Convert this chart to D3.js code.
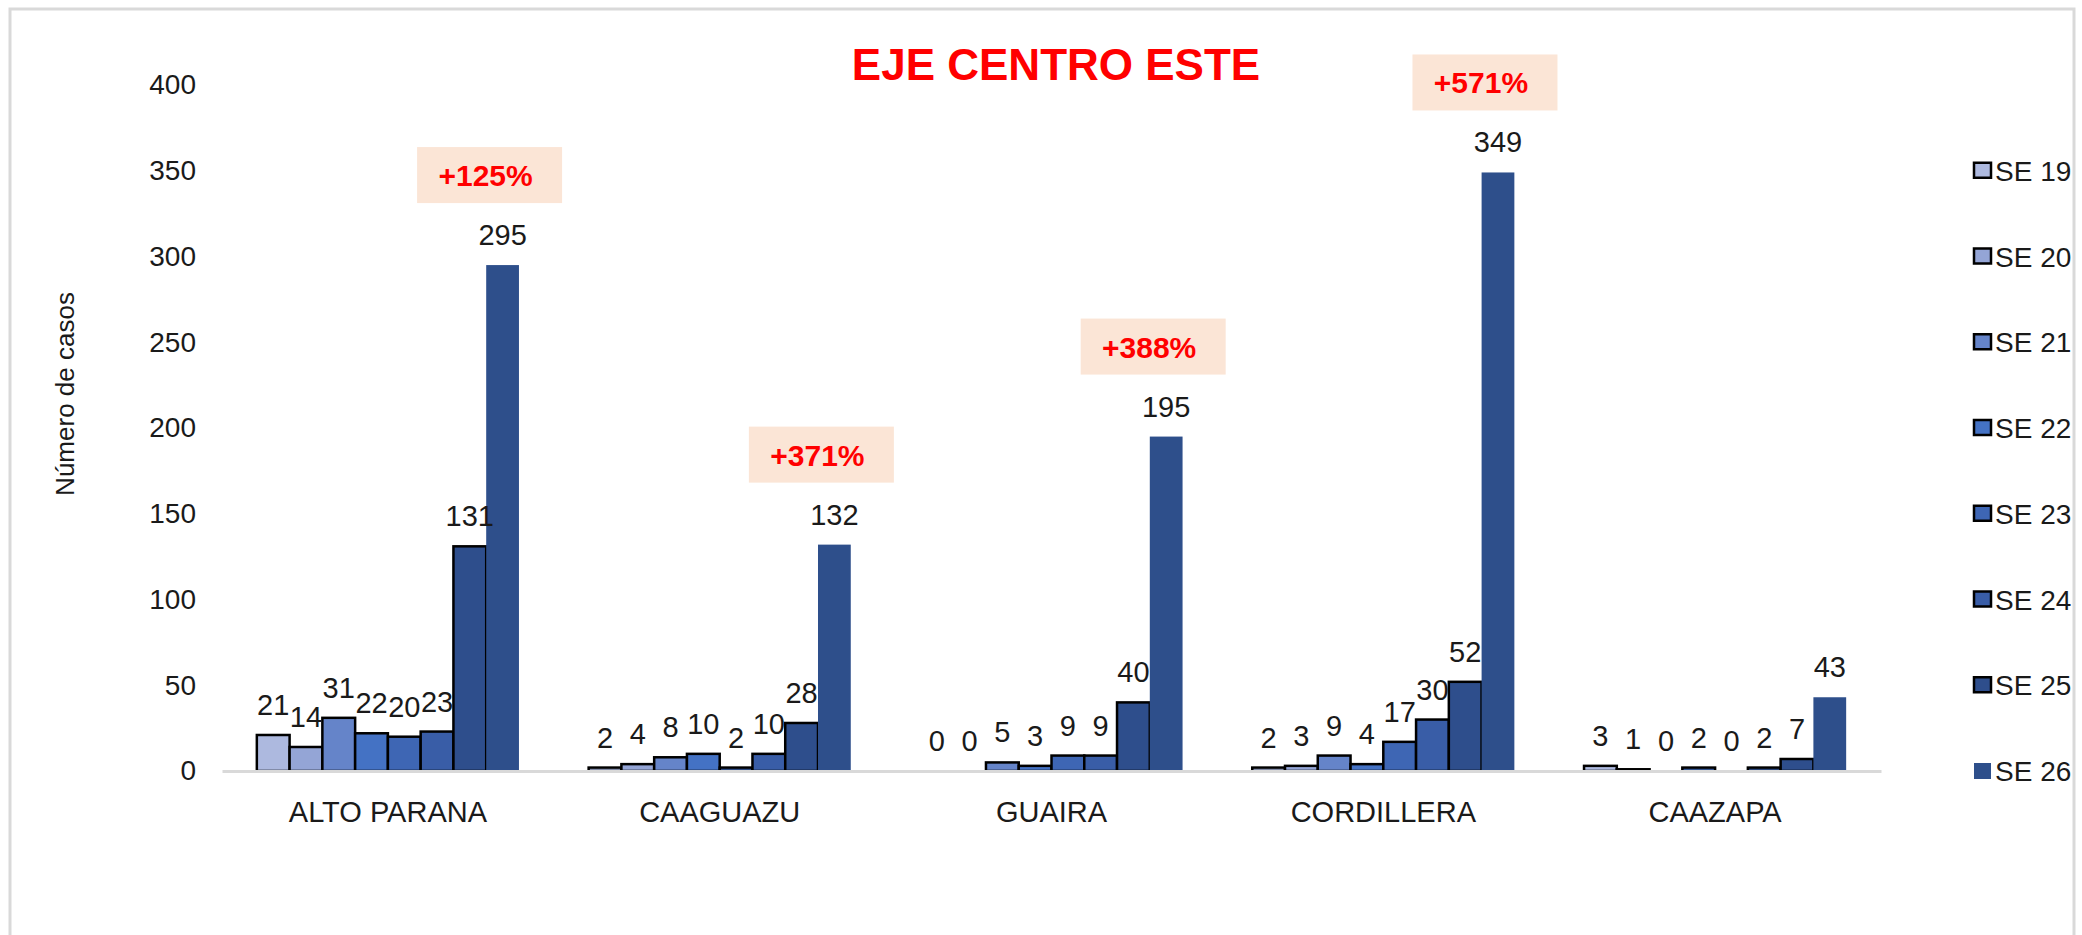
<!DOCTYPE html>
<html>
<head>
<meta charset="utf-8">
<script src="https://cdn.jsdelivr.net/npm/d3@7"></script>
<style>
  html, body { margin: 0; padding: 0; background: #fff; }
  svg { display: block; font-family: "Liberation Sans", Arial, sans-serif; }
</style>
</head>
<body>
<svg id="chart" width="2082" height="935"></svg>
<script>
// ---- data ----
const categories = ["ALTO PARANA", "CAAGUAZU", "GUAIRA", "CORDILLERA", "CAAZAPA"];
const seriesNames = ["SE 19", "SE 20", "SE 21", "SE 22", "SE 23", "SE 24", "SE 25", "SE 26"];
const se19 = [21, 2, 0, 2, 3];
const se20 = [14, 4, 0, 3, 1];
const se21 = [31, 8, 5, 9, 0];
const se22 = [22, 10, 3, 4, 2];
const se23 = [20, 2, 9, 17, 0];
const se24 = [23, 10, 9, 30, 2];
const se25 = [131, 28, 40, 52, 7];
const se26 = [295, 132, 195, 349, 43];
const yTicks = [0, 50, 100, 150, 200, 250, 300, 350, 400];
const changeCategories = ["ALTO PARANA", "CAAGUAZU", "GUAIRA", "CORDILLERA"];
const changeLabels = ["+125%", "+371%", "+388%", "+571%"];
const title = "EJE CENTRO ESTE";
const yTitle = "Número de casos";

const seriesValues = [se19, se20, se21, se22, se23, se24, se25, se26];
const colors = ["#adb9df", "#94a5d6", "#6584c9", "#4472c4", "#3e66b4", "#395da7", "#2e4e8c", "#2e4f8b"];

const svg = d3.select("#chart");

// frame
svg.append("rect").attr("x", 10).attr("y", 9).attr("width", 2064).attr("height", 960)
  .attr("fill", "none").attr("stroke", "#d9d9d9").attr("stroke-width", 3);

const plotLeft = 222, plotRight = 1881, plotTop = 85, plotBottom = 771;

const x = d3.scaleBand().domain(categories).range([plotLeft, plotRight]).paddingInner(0.21).paddingOuter(0.105);
const xs = d3.scaleBand().domain(seriesNames).range([0, x.bandwidth()]).padding(0);
const y = d3.scaleLinear().domain([0, 400]).range([plotBottom, plotTop]);

// title
svg.append("text").attr("x", 1056).attr("y", 80).attr("text-anchor", "middle")
  .attr("fill", "#ff0000").attr("font-weight", "bold").attr("font-size", 44).text(title);

// y axis (no line, labels only)
const yAxis = d3.axisLeft(y).tickValues(yTicks).tickSize(0).tickPadding(0);
const gy = svg.append("g").attr("transform", `translate(196,0)`).call(yAxis);
gy.select(".domain").remove();
gy.selectAll("text").attr("font-size", 28).attr("fill", "#1a1a1a")
  .attr("font-family", "Liberation Sans, Arial, sans-serif");

// y title
svg.append("text").attr("transform", `translate(74,394) rotate(-90)`)
  .attr("text-anchor", "middle").attr("font-size", 26).attr("fill", "#1a1a1a").text(yTitle);

// bars
const rows = [];
categories.forEach((c, ci) => {
  seriesNames.forEach((s, si) => rows.push({ cat: c, ser: s, si, value: seriesValues[si][ci] }));
});

const gBars = svg.append("g");
gBars.selectAll("rect").data(rows).join("rect")
  .attr("x", d => x(d.cat) + xs(d.ser))
  .attr("y", d => y(d.value))
  .attr("width", xs.bandwidth())
  .attr("height", d => y(0) - y(d.value))
  .attr("fill", d => colors[d.si])
  .attr("stroke", d => d.si < 7 ? "#000" : "none")
  .attr("stroke-width", 2.5);

// x axis
const xAxis = d3.axisBottom(x).tickSize(0).tickPadding(30);
const gx = svg.append("g").attr("transform", `translate(0,${plotBottom})`).call(xAxis);
gx.select(".domain").attr("stroke", "#d9d9d9").attr("stroke-width", 3);
gx.selectAll("text").attr("font-size", 29).attr("fill", "#1a1a1a")
  .attr("font-family", "Liberation Sans, Arial, sans-serif");

// data labels
svg.append("g").selectAll("text").data(rows).join("text")
  .attr("x", d => x(d.cat) + xs(d.ser) + xs.bandwidth() / 2)
  .attr("y", d => y(d.value) - 20)
  .attr("text-anchor", "middle").attr("font-size", 29).attr("fill", "#1a1a1a")
  .text(d => d.value);

// change annotations
const boxW = 145, boxH = 56;
const ann = svg.append("g");
changeCategories.forEach((c, i) => {
  const ci = categories.indexOf(c);
  const v = se26[ci];
  const cx = x(c) + xs("SE 26") + xs.bandwidth() / 2 - 13;
  const by = y(v) - 62 - boxH;
  ann.append("rect").attr("x", cx - boxW / 2).attr("y", by).attr("width", boxW).attr("height", boxH)
    .attr("fill", "#fbe5d6");
  ann.append("text").attr("x", cx - 4).attr("y", by + boxH / 2 + 11).attr("text-anchor", "middle")
    .attr("fill", "#ff0000").attr("font-weight", "bold").attr("font-size", 30).text(changeLabels[i]);
});

// legend
const lg = svg.append("g");
seriesNames.forEach((s, i) => {
  const ly = y(350 - i * 50);
  if (i < 7) {
    lg.append("rect").attr("x", 1974).attr("y", ly - 8).attr("width", 17).attr("height", 15)
      .attr("fill", colors[i]).attr("stroke", "#000").attr("stroke-width", 2.5);
  } else {
    lg.append("rect").attr("x", 1974).attr("y", ly - 8).attr("width", 17).attr("height", 16)
      .attr("fill", colors[i]);
  }
  lg.append("text").attr("x", 1995).attr("y", ly + 10).attr("font-size", 28).attr("fill", "#1a1a1a").text(s);
});
</script>
</body>
</html>
